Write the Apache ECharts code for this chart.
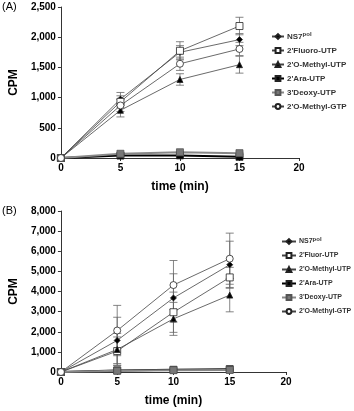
<!DOCTYPE html>
<html>
<head>
<meta charset="utf-8">
<script src="https://cdn.jsdelivr.net/npm/echarts@6/dist/echarts.min.js"></script>
<style>
  html, body { margin: 0; padding: 0; background: #fff; }
  #chart { width: 354px; height: 411px; }
</style>
</head>
<body>
<div id="chart"></div>
<script>
// time points (min)
const timeMin = [0, 5, 10, 15];

// panel A
const namesA = ['NS7pol', "2'Fluoro-UTP", "2'O-Methyl-UTP", "2'Ara-UTP", "3'Deoxy-UTP", "2'O-Methyl-GTP"];
const ns7A = [0, 975, 1750, 1960];
const fluoroA = [0, 930, 1775, 2185];
const omeUtpA = [0, 790, 1300, 1545];
const araA = [0, 40, 43, 20];
const deoxyA = [0, 70, 95, 80];
const omeGtpA = [0, 870, 1560, 1805];
const sdNs7A = [0, 110, 110, 100];
const sdFluoroA = [0, 100, 150, 145];
const sdOmeUtpA = [0, 110, 95, 140];
const sdAraA = [0, 10, 10, 10];
const sdDeoxyA = [0, 10, 15, 15];
const sdOmeGtpA = [0, 100, 110, 110];

// panel B
const namesB = ['NS7pol', "2'Fluor-UTP", "2'O-Methyl-UTP", "2'Ara-UTP", "3'Deoxy-UTP", "2'O-Methyl-GTP"];
const ns7B = [0, 1570, 3680, 5330];
const fluorB = [0, 1040, 2970, 4700];
const omeUtpB = [0, 1120, 2640, 3820];
const araB = [0, 80, 110, 140];
const deoxyB = [0, 60, 90, 100];
const omeGtpB = [0, 2060, 4320, 5630];
const sdNs7B = [0, 1150, 1200, 1170];
const sdFluorB = [0, 700, 1000, 500];
const sdOmeUtpB = [0, 800, 820, 830];
const sdAraB = [0, 20, 20, 20];
const sdDeoxyB = [0, 20, 20, 20];
const sdOmeGtpB = [0, 1250, 1220, 1270];

const xTicksMax = 20;
const yMaxA = 2500, yStepA = 500;
const yMaxB = 8000, yStepB = 1000;

const styles = [
  { symbol: 'diamond', symbolSize: 6, fill: '#000', line: '#444', width: 0.8 },
  { symbol: 'rect', symbolSize: 7, fill: '#fff', line: '#444', width: 0.8 },
  { symbol: 'triangle', symbolSize: 6, fill: '#000', line: '#444', width: 0.8 },
  { symbol: 'rect', symbolSize: 7, fill: '#000', line: '#000', width: 2 },
  { symbol: 'rect', symbolSize: 7, fill: '#777', line: '#888', width: 2 },
  { symbol: 'circle', symbolSize: 7, fill: '#fff', line: '#444', width: 0.8 }
];

function lineSeries(name, values, idx, axis) {
  const s = styles[idx];
  return {
    type: 'line',
    name: name,
    xAxisIndex: axis,
    yAxisIndex: axis,
    data: timeMin.map((t, i) => [t, values[i]]),
    symbol: s.symbol,
    symbolSize: s.symbolSize,
    showAllSymbol: true,
    z: 3,
    itemStyle: { color: s.fill, borderColor: s.fill === '#777' ? '#555' : '#222', borderWidth: 0.8 },
    lineStyle: { color: s.line, width: s.width },
    emphasis: { disabled: true },
    animation: false
  };
}

function errorSeries(valueSets, sdSets, axis) {
  const data = [];
  valueSets.forEach((vals, k) => {
    vals.forEach((v, i) => {
      if (sdSets[k][i] > 0) data.push([timeMin[i], v - sdSets[k][i], v + sdSets[k][i]]);
    });
  });
  return {
    type: 'custom',
    xAxisIndex: axis,
    yAxisIndex: axis,
    z: 2,
    silent: true,
    animation: false,
    data: data,
    renderItem: function (params, api) {
      const lo = api.coord([api.value(0), api.value(1)]);
      const hi = api.coord([api.value(0), api.value(2)]);
      const cap = 4;
      const st = { stroke: '#666', lineWidth: 0.8 };
      return {
        type: 'group',
        children: [
          { type: 'line', shape: { x1: lo[0], y1: lo[1], x2: hi[0], y2: hi[1] }, style: st },
          { type: 'line', shape: { x1: lo[0] - cap, y1: lo[1], x2: lo[0] + cap, y2: lo[1] }, style: st },
          { type: 'line', shape: { x1: hi[0] - cap, y1: hi[1], x2: hi[0] + cap, y2: hi[1] }, style: st }
        ]
      };
    }
  };
}

const fontFam = '"Liberation Sans", Arial, sans-serif';

function xAxisCfg(grid) {
  return {
    type: 'value', gridIndex: grid, min: 0, max: xTicksMax, interval: 5,
    name: 'time (min)', nameLocation: 'middle', nameGap: 23,
    nameTextStyle: { fontFamily: fontFam, fontWeight: 'bold', fontSize: 12, color: '#000' },
    axisLine: { lineStyle: { color: '#000', width: 0.8 } },
    axisTick: { length: 3, lineStyle: { color: '#000', width: 0.8 } },
    axisLabel: { fontFamily: fontFam, fontWeight: 'bold', fontSize: 10, color: '#000', margin: 5 },
    splitLine: { show: false }
  };
}

function yAxisCfg(grid, max, step) {
  return {
    type: 'value', gridIndex: grid, min: 0, max: max, interval: step,
    name: 'CPM', nameLocation: 'middle', nameGap: 38,
    nameTextStyle: { fontFamily: fontFam, fontWeight: 'bold', fontSize: 12, color: '#000' },
    axisLine: { show: true, lineStyle: { color: '#000', width: 0.8 } },
    axisTick: { show: true, length: 3, lineStyle: { color: '#000', width: 0.8 } },
    axisLabel: {
      fontFamily: fontFam, fontWeight: 'bold', fontSize: 10, color: '#000', margin: 5,
      formatter: v => v.toLocaleString('en-US')
    },
    splitLine: { show: false }
  };
}

function legendCfg(names, left, top, gap, fs, iw) {
  return {
    data: names, orient: 'vertical', left: left, top: top,
    itemWidth: iw, itemHeight: 6, itemGap: gap,
    selectedMode: false,
    textStyle: {
      fontFamily: fontFam, fontWeight: 'bold', fontSize: fs, color: '#333', padding: [0, 0, 0, -2],
      rich: {
        a: { fontFamily: fontFam, fontWeight: 'bold', fontSize: fs, color: '#333' },
        sup: { fontFamily: fontFam, fontWeight: 'bold', fontSize: 6, color: '#333', verticalAlign: 'top', padding: [0, 0, 5, 0] }
      }
    },
    formatter: n => n === 'NS7pol' ? '{a|NS7}{sup|pol}' : n
  };
}

const chart = echarts.init(document.getElementById('chart'), null, { renderer: 'canvas' });

const series = [];
[ns7A, fluoroA, omeUtpA, araA, deoxyA, omeGtpA].forEach((vals, i) => series.push(lineSeries(namesA[i], vals, i, 0)));
[ns7B, fluorB, omeUtpB, araB, deoxyB, omeGtpB].forEach((vals, i) => series.push(lineSeries(namesB[i], vals, i, 1)));
series.push(errorSeries([ns7A, fluoroA, omeUtpA, araA, deoxyA, omeGtpA],
  [sdNs7A, sdFluoroA, sdOmeUtpA, sdAraA, sdDeoxyA, sdOmeGtpA], 0));
series.push(errorSeries([ns7B, fluorB, omeUtpB, araB, deoxyB, omeGtpB],
  [sdNs7B, sdFluorB, sdOmeUtpB, sdAraB, sdDeoxyB, sdOmeGtpB], 1));

chart.setOption({
  backgroundColor: '#fff',
  animation: false,
  grid: [
    { left: 57, top: 7, width: 242, height: 151 },
    { left: 57, top: 211, width: 229, height: 161 }
  ],
  xAxis: [xAxisCfg(0), xAxisCfg(1)],
  yAxis: [yAxisCfg(0, yMaxA, yStepA), yAxisCfg(1, yMaxB, yStepB)],
  legend: [legendCfg(namesA, 266, 26, 6, 8, 12), legendCfg(namesB, 276, 231, 7, 7, 14)],
  graphic: [
    { type: 'text', left: 2, top: 1, style: { text: '(A)', font: '11px "Liberation Sans", Arial', fill: '#000' } },
    { type: 'text', left: 2, top: 205, style: { text: '(B)', font: '11px "Liberation Sans", Arial', fill: '#000' } }
  ],
  series: series
});
</script>
</body>
</html>
